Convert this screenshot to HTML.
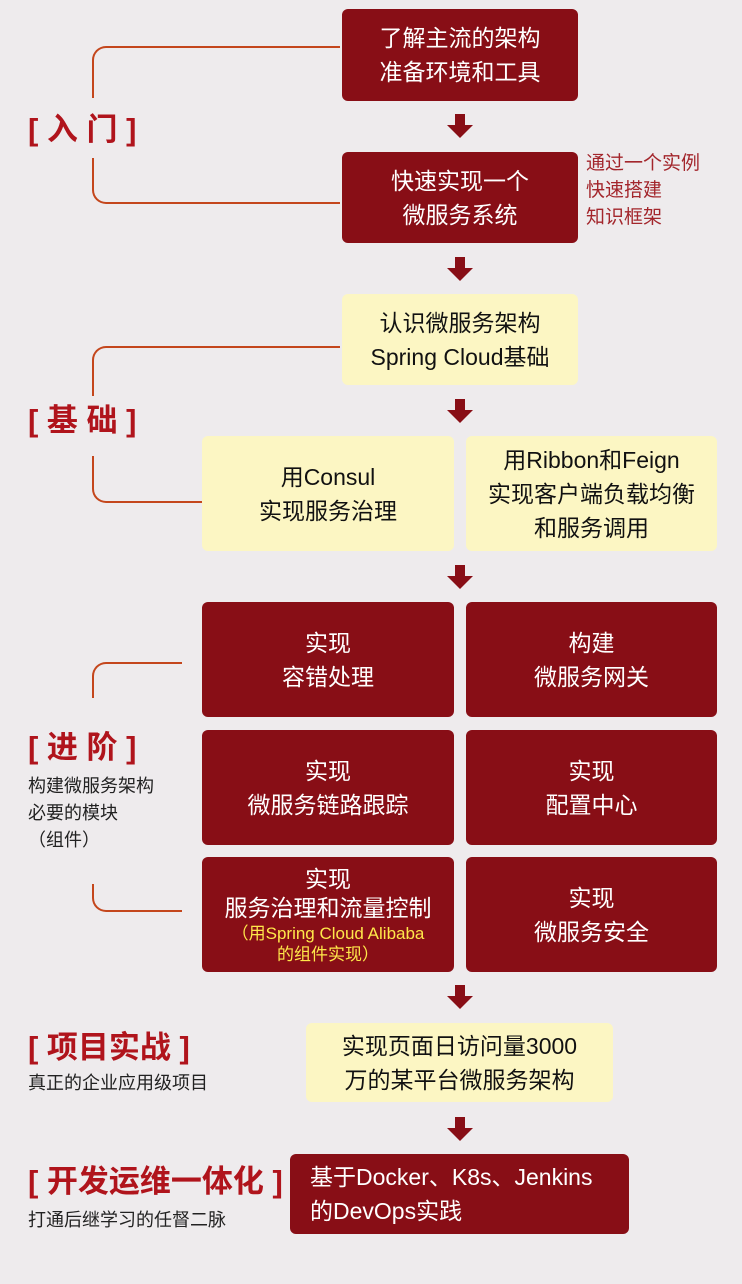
<!DOCTYPE html>
<html><head><meta charset="utf-8"><style>
*{margin:0;padding:0;box-sizing:border-box}
body{width:742px;height:1284px;background:#eeebed;position:relative;overflow:hidden;font-family:"Liberation Sans","Noto Sans CJK SC",sans-serif}
.b{position:absolute;border-radius:6px;display:flex;flex-direction:column;align-items:center;justify-content:center;text-align:center;font-size:23px;line-height:34px}
.r{background:#880e16;color:#fff}
.y{background:#fcf6c3;color:#111}
.lbl{position:absolute;color:#b0141c;font-weight:bold;font-size:31px;line-height:36px;white-space:nowrap}
.lbl span{font-weight:normal}
.sub{position:absolute;color:#222;font-size:18px;line-height:27px;white-space:nowrap}
.ar{position:absolute;width:26px;height:24px}
.ln{position:absolute;border-color:#c4461c;border-style:solid;border-width:0}
</style></head><body>
<!-- brackets -->
<div class="ln" style="left:92px;top:46px;width:248px;height:52px;border-top-width:2px;border-left-width:2px;border-top-left-radius:14px"></div>
<div class="ln" style="left:92px;top:158px;width:248px;height:46px;border-bottom-width:2px;border-left-width:2px;border-bottom-left-radius:14px"></div>
<div class="ln" style="left:92px;top:346px;width:248px;height:50px;border-top-width:2px;border-left-width:2px;border-top-left-radius:14px"></div>
<div class="ln" style="left:92px;top:456px;width:110px;height:47px;border-bottom-width:2px;border-left-width:2px;border-bottom-left-radius:14px"></div>
<div class="ln" style="left:92px;top:662px;width:90px;height:36px;border-top-width:2px;border-left-width:2px;border-top-left-radius:14px"></div>
<div class="ln" style="left:92px;top:884px;width:90px;height:28px;border-bottom-width:2px;border-left-width:2px;border-bottom-left-radius:14px"></div>

<div class="lbl" style="left:28px;top:112px">[ 入 门 ]</div>
<div class="lbl" style="left:28px;top:403px">[ 基 础 ]</div>
<div class="lbl" style="left:28px;top:730px">[ 进 阶 ]</div>
<div class="sub" style="left:28px;top:773px">构建微服务架构<br>必要的模块<br>（组件）</div>
<div class="lbl" style="left:28px;top:1030px">[ 项目实战 ]</div>
<div class="sub" style="left:28px;top:1070px">真正的企业应用级项目</div>
<div class="lbl" style="left:28px;top:1164px">[ 开发运维一体化 ]</div>
<div class="sub" style="left:28px;top:1207px">打通后继学习的任督二脉</div>

<div class="b r" style="left:342px;top:9px;width:236px;height:92px">了解主流的架构<br>准备环境和工具</div>
<div class="b r" style="left:342px;top:152px;width:236px;height:91px">快速实现一个<br>微服务系统</div>
<div style="position:absolute;left:586px;top:150px;color:#a3262c;font-size:19px;line-height:27px">通过一个实例<br>快速搭建<br>知识框架</div>
<div class="b y" style="left:342px;top:294px;width:236px;height:91px">认识微服务架构<br>Spring Cloud基础</div>
<div class="b y" style="left:202px;top:436px;width:252px;height:115px">用Consul<br>实现服务治理</div>
<div class="b y" style="left:466px;top:436px;width:251px;height:115px">用Ribbon和Feign<br>实现客户端负载均衡<br>和服务调用</div>
<div class="b r" style="left:202px;top:602px;width:252px;height:115px">实现<br>容错处理</div>
<div class="b r" style="left:466px;top:602px;width:251px;height:115px">构建<br>微服务网关</div>
<div class="b r" style="left:202px;top:730px;width:252px;height:115px">实现<br>微服务链路跟踪</div>
<div class="b r" style="left:466px;top:730px;width:251px;height:115px">实现<br>配置中心</div>
<div class="b r" style="left:202px;top:857px;width:252px;height:115px;line-height:29px">实现<br>服务治理和流量控制<span style="color:#ffe84a;font-size:17px;line-height:21px">（用Spring Cloud Alibaba<br>的组件实现）</span></div>
<div class="b r" style="left:466px;top:857px;width:251px;height:115px">实现<br>微服务安全</div>
<div class="b y" style="left:306px;top:1023px;width:307px;height:79px">实现页面日访问量3000<br>万的某平台微服务架构</div>
<div class="b r" style="left:290px;top:1154px;width:339px;height:80px;align-items:flex-start;text-align:left;padding-left:20px">基于Docker、K8s、Jenkins<br>的DevOps实践</div>

<svg width="742" height="1284" style="position:absolute;left:0;top:0" >
<defs><path id="a" d="M-5 0h10v11h8l-13 13l-13-13h8z" fill="#880e16"/></defs>
<use href="#a" x="460" y="114"/>
<use href="#a" x="460" y="257"/>
<use href="#a" x="460" y="399"/>
<use href="#a" x="460" y="565"/>
<use href="#a" x="460" y="985"/>
<use href="#a" x="460" y="1117"/>
</svg>
</body></html>
